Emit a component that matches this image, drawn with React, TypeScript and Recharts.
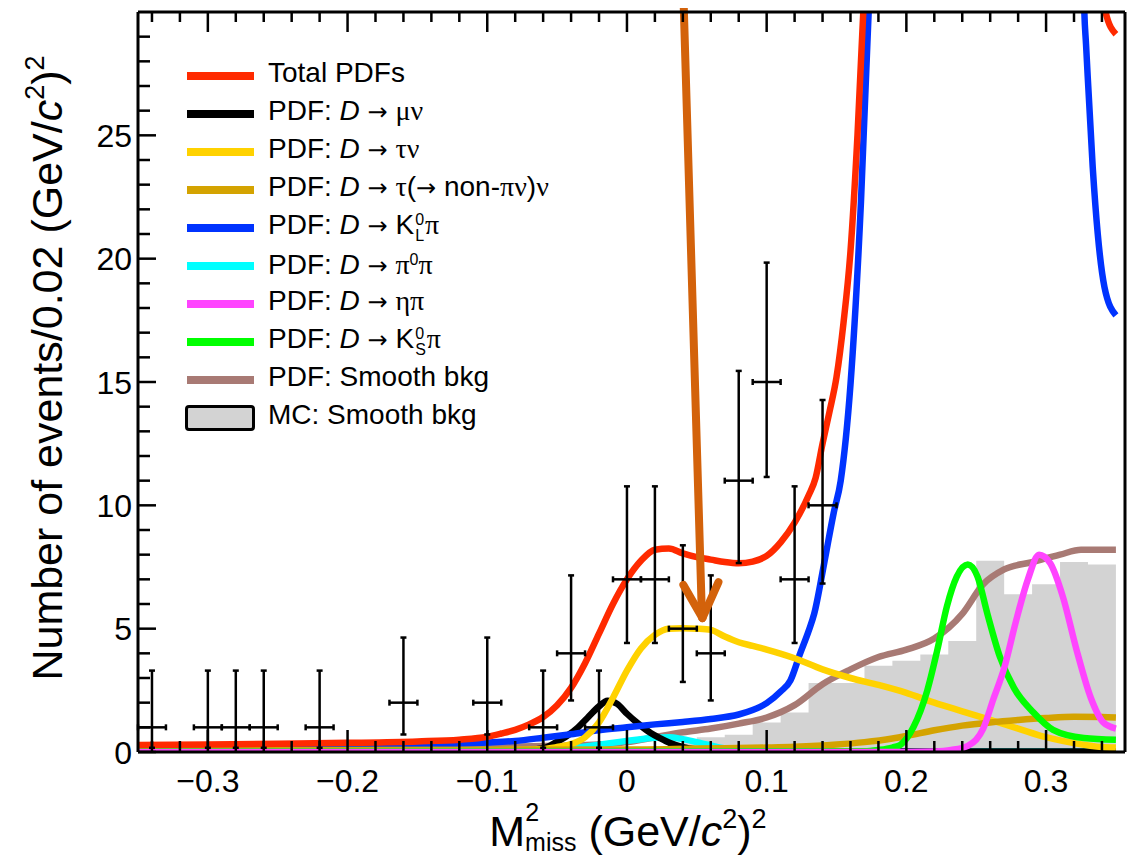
import React from 'react';
import {
  ComposedChart,
  Line,
  Area,
  Scatter,
  ErrorBar,
  XAxis,
  YAxis,
  Legend,
  ReferenceLine,
} from 'recharts';

const FONT = '"Liberation Sans", Arial, Helvetica, sans-serif';
const SERIF = '"Liberation Serif", "Times New Roman", serif';
const ARROW_FONT = '"DejaVu Sans", sans-serif';

// ---------- measured data points (counts per 0.02 bin) ----------
const dataX = [-0.34, -0.3, -0.28, -0.26, -0.22, -0.16, -0.1, -0.06, -0.04, -0.02, 0.0, 0.02, 0.04, 0.06, 0.08, 0.1, 0.12, 0.14];
const dataY = [1, 1, 1, 1, 1, 2, 2, 1, 4, 1, 7, 7, 5, 4, 11, 15, 7, 10];
const dataLow = [0.17, 0.17, 0.17, 0.17, 0.17, 0.71, 0.71, 0.17, 2.09, 0.17, 4.42, 4.42, 2.84, 2.09, 7.66, 11.15, 4.42, 6.83];
const dataHigh = [3.3, 3.3, 3.3, 3.3, 3.3, 4.64, 4.64, 3.3, 7.16, 3.3, 10.77, 10.77, 8.38, 7.16, 15.45, 19.84, 10.77, 14.27];
const binHalfWidth = 0.01;

// ---------- MC smooth background histogram ----------
const mcFirstEdge = -0.35;
const mcBinWidth = 0.02;
const mcBkg = [
  0, 0, 0, 0, 0, 0, 0, 0, 0, 0, 0, 0, 0, 0, 0, 0,
  0.05, 0.1, 0.2, 0.35, 0.6, 0.7, 1.2, 1.6, 2.8, 2.8, 3.5, 3.7, 3.95, 4.5, 7.75, 6.4, 6.8, 7.7, 7.6,
];

// ---------- fitted PDF curves: [x, y] ----------
const totalPdf: number[][] = [
  [-0.35, 0.28], [-0.3, 0.3], [-0.25, 0.33], [-0.2, 0.37], [-0.15, 0.43], [-0.12, 0.5], [-0.1, 0.62],
  [-0.09, 0.75], [-0.08, 0.9], [-0.07, 1.12], [-0.06, 1.42], [-0.05, 1.9], [-0.04, 2.6], [-0.03, 3.6],
  [-0.02, 4.8], [-0.01, 6.0], [0.0, 7.0], [0.01, 7.75], [0.02, 8.2], [0.03, 8.25], [0.04, 8.05],
  [0.05, 7.9], [0.06, 7.8], [0.07, 7.7], [0.08, 7.65], [0.09, 7.72], [0.1, 7.95], [0.11, 8.5],
  [0.12, 9.3], [0.13, 10.4], [0.135, 11.1], [0.14, 12.5], [0.145, 13.8], [0.15, 15.2], [0.155, 17.4],
  [0.16, 20.3], [0.165, 25], [0.17, 31], [0.175, 38], [0.18, 46], [0.2, 70], [0.25, 90], [0.3, 70],
  [0.32, 45], [0.33, 36], [0.335, 33], [0.3426, 30], [0.35, 29.1],
];
const muNu: number[][] = [
  [-0.35, 0.02], [-0.08, 0.03], [-0.06, 0.15], [-0.05, 0.42], [-0.043, 0.65], [-0.035, 1.0], [-0.028, 1.4],
  [-0.02, 1.85], [-0.014, 2.08], [-0.007, 1.95], [0.0, 1.55], [0.008, 1.15], [0.017, 0.77], [0.024, 0.55],
  [0.031, 0.36], [0.04, 0.2], [0.05, 0.1], [0.06, 0.05], [0.08, 0.02], [0.35, 0.02],
];
const tauNu: number[][] = [
  [-0.35, 0.05], [-0.1, 0.07], [-0.06, 0.12], [-0.05, 0.2], [-0.04, 0.32], [-0.03, 0.6], [-0.02, 1.2],
  [-0.01, 2.2], [0.0, 3.3], [0.01, 4.2], [0.02, 4.75], [0.03, 5.0], [0.04, 5.02], [0.05, 5.0], [0.06, 4.95],
  [0.07, 4.68], [0.08, 4.45], [0.09, 4.3], [0.1, 4.15], [0.12, 3.8], [0.14, 3.35], [0.16, 3.0], [0.18, 2.72],
  [0.2, 2.4], [0.22, 2.0], [0.24, 1.65], [0.26, 1.3], [0.28, 0.95], [0.3, 0.6], [0.32, 0.36], [0.34, 0.2], [0.35, 0.18],
];
const tauNonPiNu: number[][] = [
  [-0.35, 0.08], [0.0, 0.1], [0.05, 0.14], [0.1, 0.18], [0.12, 0.21], [0.15, 0.3], [0.17, 0.4], [0.19, 0.55],
  [0.2, 0.65], [0.22, 0.88], [0.24, 1.07], [0.26, 1.2], [0.28, 1.3], [0.3, 1.38], [0.32, 1.43], [0.34, 1.42], [0.35, 1.4],
];
const kLPi: number[][] = [
  [-0.35, 0.12], [-0.25, 0.18], [-0.15, 0.28], [-0.1, 0.38], [-0.08, 0.45], [-0.06, 0.58], [-0.04, 0.72],
  [-0.02, 0.88], [0.0, 1.0], [0.02, 1.12], [0.04, 1.22], [0.06, 1.34], [0.08, 1.52], [0.09, 1.7], [0.1, 1.98],
  [0.11, 2.45], [0.117, 2.9], [0.124, 4.0], [0.13, 4.9], [0.134, 5.6], [0.141, 7.6], [0.148, 9.7], [0.153, 11.0],
  [0.16, 14.9], [0.1675, 22.3], [0.173, 30], [0.18, 42], [0.2, 80], [0.25, 100], [0.3, 80], [0.32, 45],
  [0.326, 34], [0.3274, 30], [0.3286, 28.7], [0.3334, 23.7], [0.337, 21.0], [0.3418, 18.85], [0.35, 17.7],
];
const pi0Pi: number[][] = [
  [-0.35, 0.02], [-0.08, 0.03], [-0.06, 0.06], [-0.04, 0.15], [-0.02, 0.3], [0.0, 0.45], [0.02, 0.58],
  [0.03, 0.6], [0.04, 0.52], [0.053, 0.36], [0.065, 0.2], [0.08, 0.08], [0.1, 0.03], [0.35, 0.02],
];
const etaPi: number[][] = [
  [-0.35, 0.0], [0.2, 0.0], [0.22, 0.02], [0.232, 0.08], [0.244, 0.25], [0.25, 0.5], [0.255, 0.95],
  [0.262, 2.1], [0.27, 3.4], [0.278, 5.2], [0.287, 7.0], [0.295, 8.0], [0.303, 7.65], [0.312, 6.3],
  [0.322, 4.1], [0.332, 2.2], [0.341, 1.2], [0.35, 0.95],
];
const kSPi: number[][] = [
  [-0.35, 0.02], [0.17, 0.03], [0.18, 0.08], [0.19, 0.18], [0.196, 0.3], [0.205, 1.0], [0.215, 2.5],
  [0.222, 4.1], [0.229, 5.9], [0.236, 7.1], [0.244, 7.6], [0.251, 7.1], [0.258, 5.6], [0.267, 3.85],
  [0.277, 2.6], [0.291, 1.6], [0.305, 0.9], [0.327, 0.57], [0.35, 0.5],
];
const smoothBkg: number[][] = [
  [-0.35, 0.12], [-0.2, 0.15], [-0.1, 0.2], [-0.05, 0.25], [-0.02, 0.3], [0.0, 0.4], [0.02, 0.6],
  [0.04, 0.8], [0.06, 0.95], [0.08, 1.15], [0.1, 1.4], [0.12, 1.9], [0.14, 2.75], [0.16, 3.35],
  [0.18, 3.85], [0.2, 4.15], [0.22, 4.6], [0.24, 5.6], [0.255, 6.8], [0.27, 7.4], [0.29, 7.7],
  [0.31, 8.0], [0.325, 8.2], [0.35, 8.2],
];

// annotation arrow (data coordinates)
const arrowShaft = [[0.0405, 30.5], [0.0535, 5.8]];
const arrowHeadLeft = [[0.0404, 6.77], [0.054, 5.43]];
const arrowHeadRight = [[0.0655, 6.89], [0.054, 5.43]];

// ---------- axes ----------
const xDomain = [-0.35, 0.3565];
const yDomain = [0, 30];
const xTicks = [
  -0.34, -0.32, -0.3, -0.28, -0.26, -0.24, -0.22, -0.2, -0.18, -0.16, -0.14, -0.12, -0.1, -0.08, -0.06, -0.04, -0.02,
  0, 0.02, 0.04, 0.06, 0.08, 0.1, 0.12, 0.14, 0.16, 0.18, 0.2, 0.22, 0.24, 0.26, 0.28, 0.3, 0.32, 0.34,
];
const xMajorTicks = [-0.3, -0.2, -0.1, 0, 0.1, 0.2, 0.3];
const xTickLabels = ['\u22120.3', '\u22120.2', '\u22120.1', '0', '0.1', '0.2', '0.3'];
const yTicks = [0, 1, 2, 3, 4, 5, 6, 7, 8, 9, 10, 11, 12, 13, 14, 15, 16, 17, 18, 19, 20, 21, 22, 23, 24, 25, 26, 27, 28, 29];
const yMajorTicks = [0, 5, 10, 15, 20, 25];
const yTickLabels = ['0', '5', '10', '15', '20', '25'];

// ---------- colours ----------
const C_TOTAL = '#FF2A00';
const C_MUNU = '#000000';
const C_TAUNU = '#FFD200';
const C_TAUNON = '#D4A300';
const C_KL = '#0033FF';
const C_PI0 = '#00FFFF';
const C_ETA = '#FF44FF';
const C_KS = '#00FF00';
const C_BKG = '#A87A74';
const C_MC = '#D3D3D3';
const C_ARROW = '#D3620B';

// ---------- helpers ----------
const toPts = (arr: number[][]) => arr.map(([x, y]) => ({ x, y }));
const pointsData = dataX.map((x, i) => ({
  x,
  y: dataY[i],
  yErr: [dataY[i] - dataLow[i], dataHigh[i] - dataY[i]],
  xErr: binHalfWidth,
}));
const mcData = [
  ...mcBkg.map((v, i) => ({ x: +(mcFirstEdge + i * mcBinWidth).toFixed(4), y: v })),
  { x: +(mcFirstEdge + mcBkg.length * mcBinWidth).toFixed(4), y: mcBkg[mcBkg.length - 1] },
];

const majorIndex = (list: number[], v: number) => list.findIndex((t) => Math.abs(t - v) < 1e-6);

const BottomTick = (props: any) => {
  const { x, y, payload } = props;
  const idx = majorIndex(xMajorTicks, payload.value);
  const major = idx >= 0;
  return (
    <g>
      <line x1={x} x2={x} y1={y} y2={y - (major ? 22 : 11)} stroke="#000" strokeWidth={2.5} />
      {major && (
        <text x={x} y={y + 40} textAnchor="middle" fontSize={32} fontFamily={FONT} fill="#000">
          {xTickLabels[idx]}
        </text>
      )}
    </g>
  );
};

const TopTick = (props: any) => {
  const { x, y, payload } = props;
  const major = majorIndex(xMajorTicks, payload.value) >= 0;
  return <line x1={x} x2={x} y1={y} y2={y + (major ? 20 : 10)} stroke="#000" strokeWidth={2.5} />;
};

const LeftTick = (props: any) => {
  const { x, y, payload } = props;
  const idx = majorIndex(yMajorTicks, payload.value);
  const major = idx >= 0;
  return (
    <g>
      <line x1={x} x2={x + (major ? 18 : 12)} y1={y} y2={y} stroke="#000" strokeWidth={2.5} />
      {major && (
        <text x={x - 6} y={y + 11.5} textAnchor="end" fontSize={32} fontFamily={FONT} fill="#000">
          {yTickLabels[idx]}
        </text>
      )}
    </g>
  );
};

const renderXTitle = () => (
  <text x={620} y={838} textAnchor="middle" fontSize={43} fontFamily={FONT} fill="#000">
    <tspan>M</tspan>
    <tspan fontSize={25} dy={-25}>2</tspan>
    <tspan fontSize={25} dx={-14} dy={30}>miss</tspan>
    <tspan dy={-5}> (GeV/</tspan>
    <tspan fontStyle="italic">c</tspan>
    <tspan fontSize={27} dy={-18}>2</tspan>
    <tspan dy={18}>)</tspan>
    <tspan fontSize={27} dy={-18}>2</tspan>
  </text>
);

const renderYTitle = () => (
  <text transform="translate(54,360) rotate(-90)" textAnchor="middle" fontSize={43} fontFamily={FONT} fill="#000">
    <tspan>Number of events/0.02 (GeV/</tspan>
    <tspan fontStyle="italic">c</tspan>
    <tspan fontSize={27} dy={-18}>2</tspan>
    <tspan dy={18}>)</tspan>
    <tspan fontSize={27} dy={-18}>2</tspan>
  </text>
);

// ---------- legend ----------
const G = ({ children }: { children: React.ReactNode }) => <span style={{ fontFamily: SERIF }}>{children}</span>;
const Stack = ({ top, bot }: { top: string; bot: string }) => (
  <span
    style={{
      display: 'inline-flex',
      flexDirection: 'column',
      fontSize: 16,
      lineHeight: '16px',
      verticalAlign: 8.5,
      marginLeft: 1,
      marginRight: 1,
    }}
  >
    <span>{top}</span>
    <span>{bot}</span>
  </span>
);
const Sup = ({ children }: { children: React.ReactNode }) => (
  <span style={{ fontSize: 16, verticalAlign: 8.5 }}>{children}</span>
);
const Dd = () => <i>D</i>;
const Arr = () => <span style={{ fontFamily: ARROW_FONT, fontSize: 24 }}>{'\u2192'}</span>;

const legendRows = [
  { color: C_TOTAL, box: false, label: <>Total PDFs</> },
  { color: C_MUNU, box: false, label: <>PDF: <Dd /> <Arr /> <G>μν</G></> },
  { color: C_TAUNU, box: false, label: <>PDF: <Dd /> <Arr /> <G>τν</G></> },
  { color: C_TAUNON, box: false, label: <>PDF: <Dd /> <Arr /> <G>τ</G>(<Arr /> non-<G>πν</G>)<G>ν</G></> },
  { color: C_KL, box: false, label: <>PDF: <Dd /> <Arr /> K<Stack top="0" bot="L" /><G>π</G></> },
  { color: C_PI0, box: false, label: <>PDF: <Dd /> <Arr /> <G>π</G><Sup>0</Sup><G>π</G></> },
  { color: C_ETA, box: false, label: <>PDF: <Dd /> <Arr /> <G>ηπ</G></> },
  { color: C_KS, box: false, label: <>PDF: <Dd /> <Arr /> K<Stack top="0" bot="S" /><G>π</G></> },
  { color: C_BKG, box: false, label: <>PDF: Smooth bkg</> },
  { color: C_MC, box: true, label: <>MC: Smooth bkg</> },
];

const renderLegend = () => (
  <div style={{ fontFamily: FONT, fontSize: 28, color: '#000' }}>
    {legendRows.map((r, i) => (
      <div key={i} style={{ display: 'flex', alignItems: 'center', height: 38 }}>
        <div style={{ width: 70, display: 'flex', alignItems: 'center' }}>
          {r.box ? (
            <div style={{ width: 64, height: 20, background: r.color, border: '3px solid #000', borderRadius: 4 }} />
          ) : (
            <div style={{ marginLeft: 2, width: 67, height: 8, background: r.color }} />
          )}
        </div>
        <span style={{ marginLeft: 13, position: 'relative', top: -3, whiteSpace: 'nowrap', lineHeight: '38px' }}>
          {r.label}
        </span>
      </div>
    ))}
  </div>
);

const curveSeries = [
  { key: 'bkg', data: smoothBkg, color: C_BKG },
  { key: 'pi0', data: pi0Pi, color: C_PI0 },
  { key: 'munu', data: muNu, color: C_MUNU },
  { key: 'kl', data: kLPi, color: C_KL },
  { key: 'taunu', data: tauNu, color: C_TAUNU },
  { key: 'taunon', data: tauNonPiNu, color: C_TAUNON },
  { key: 'ks', data: kSPi, color: C_KS },
  { key: 'eta', data: etaPi, color: C_ETA },
  { key: 'total', data: totalPdf, color: C_TOTAL },
];

const axisLineStyle = { stroke: '#000', strokeWidth: 3 };

export default function App() {
  return (
    <div style={{ width: 1130, height: 848 }}>
      <ComposedChart width={1130} height={848} margin={{ top: 3, right: 12, bottom: 4, left: 70 }}>
        <XAxis
          xAxisId={0}
          dataKey="x"
          type="number"
          domain={xDomain}
          allowDataOverflow
          ticks={xTicks}
          interval={0}
          tickSize={0}
          tickMargin={0}
          tickLine={false}
          tick={(p: any) => <BottomTick {...p} />}
          height={100}
          axisLine={axisLineStyle}
          label={renderXTitle}
        />
        <XAxis
          xAxisId="top"
          orientation="top"
          dataKey="x"
          type="number"
          domain={xDomain}
          allowDataOverflow
          ticks={xTicks}
          interval={0}
          tickSize={0}
          tickMargin={0}
          tickLine={false}
          tick={(p: any) => <TopTick {...p} />}
          height={1}
          axisLine={axisLineStyle}
        />
        <YAxis
          yAxisId={0}
          type="number"
          domain={yDomain}
          allowDataOverflow
          ticks={yTicks}
          interval={0}
          tickSize={0}
          tickMargin={0}
          tickLine={false}
          tick={(p: any) => <LeftTick {...p} />}
          width={60}
          axisLine={axisLineStyle}
          label={renderYTitle}
        />
        <YAxis
          yAxisId="right"
          orientation="right"
          type="number"
          domain={yDomain}
          allowDataOverflow
          width={1}
          tick={false}
          tickLine={false}
          axisLine={axisLineStyle}
        />
        <Legend
          layout="vertical"
          align="center"
          verticalAlign="middle"
          content={renderLegend}
          wrapperStyle={{ left: 177, top: 49, width: 'auto', height: 'auto' }}
        />
        <Area
          data={mcData}
          dataKey="y"
          type="stepAfter"
          fill={C_MC}
          fillOpacity={1}
          stroke="none"
          isAnimationActive={false}
          legendType="none"
        />
        {curveSeries.map((s) => (
          <Line
            key={s.key}
            data={toPts(s.data)}
            dataKey="y"
            type="monotone"
            stroke={s.color}
            strokeWidth={6.5}
            dot={false}
            activeDot={false}
            isAnimationActive={false}
          />
        ))}
        <Scatter data={pointsData} dataKey="y" fill="#000" shape={() => <g />} isAnimationActive={false}>
          <ErrorBar dataKey="yErr" direction="y" width={3} stroke="#000" strokeWidth={2.5} />
          <ErrorBar dataKey="xErr" direction="x" width={3} stroke="#000" strokeWidth={2.5} />
        </Scatter>
        <ReferenceLine
          segment={toPts(arrowShaft)}
          ifOverflow="visible"
          stroke={C_ARROW}
          strokeWidth={8}
          strokeLinecap="round"
        />
        <ReferenceLine
          segment={toPts(arrowHeadLeft)}
          ifOverflow="visible"
          stroke={C_ARROW}
          strokeWidth={8}
          strokeLinecap="round"
        />
        <ReferenceLine
          segment={toPts(arrowHeadRight)}
          ifOverflow="visible"
          stroke={C_ARROW}
          strokeWidth={8}
          strokeLinecap="round"
        />
      </ComposedChart>
    </div>
  );
}
